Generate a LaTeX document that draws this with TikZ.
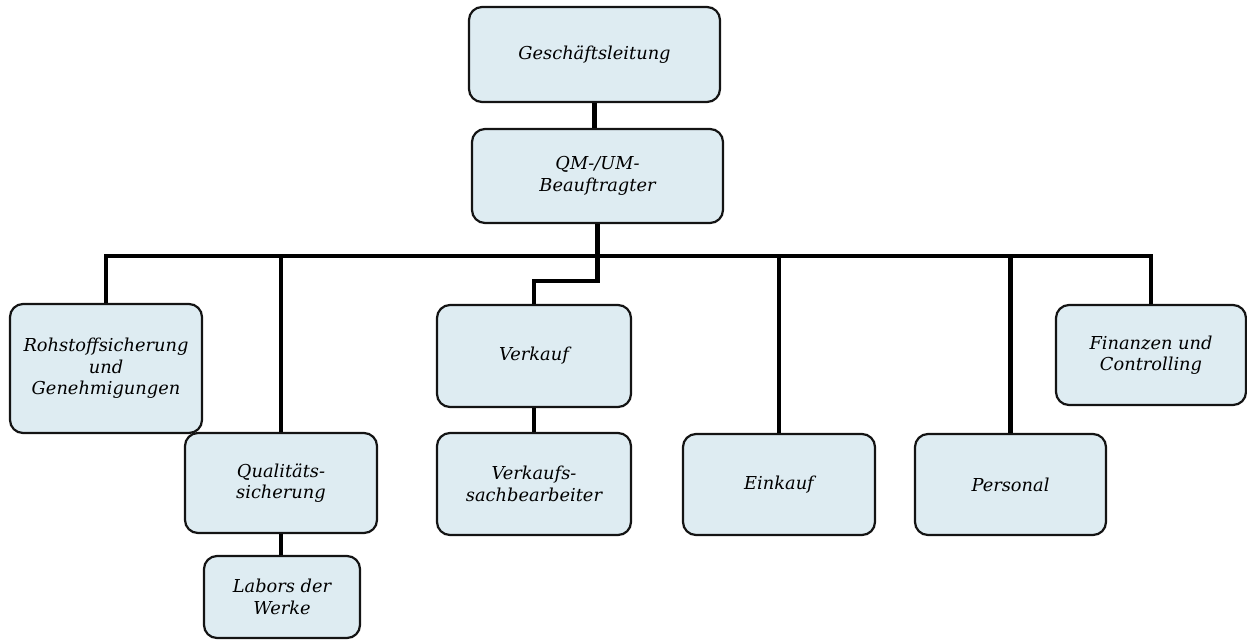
\documentclass[tikz,border=0pt]{standalone}
\usepackage{fontspec}
\setmainfont{DejaVu Serif}
\definecolor{boxfill}{RGB}{222,236,242}
\definecolor{edge}{RGB}{20,20,20}
\begin{document}
\begin{tikzpicture}[x=1pt,y=-1pt,
  orgbox/.style={draw=edge, line width=2.2pt, fill=boxfill, rounded corners=13pt,
    align=center, inner sep=2pt,
    font=\fontsize{17.8}{21.5}\selectfont\itshape},
  conn/.style={draw=black, line width=4.4pt}]
\useasboundingbox (0,0) rectangle (1247,641);

\node[orgbox, minimum width=251pt, minimum height=95pt] (gl) at (594.5,54.5) {Geschäftsleitung};
\node[orgbox, minimum width=251pt, minimum height=94pt] (qm) at (597.5,176) {QM-/UM-\\Beauftragter};
\node[orgbox, minimum width=192pt, minimum height=129pt] (roh) at (106,368.5) {Rohstoffsicherung\\und\\Genehmigungen};
\node[orgbox, minimum width=192pt, minimum height=100pt] (qs) at (281,483) {Qualitäts-\\sicherung};
\node[orgbox, minimum width=156pt, minimum height=82pt] (lab) at (282,597) {Labors der\\Werke};
\node[orgbox, minimum width=194pt, minimum height=102pt] (vk) at (534,356) {Verkauf};
\node[orgbox, minimum width=194pt, minimum height=102pt] (vsb) at (534,484) {Verkaufs-\\sachbearbeiter};
\node[orgbox, minimum width=192pt, minimum height=101pt] (ek) at (779,484.5) {Einkauf};
\node[orgbox, minimum width=191pt, minimum height=101pt] (pers) at (1010.5,484.5) {Personal};
\node[orgbox, minimum width=190pt, minimum height=100pt] (fin) at (1151,355) {Finanzen und\\Controlling};

\coordinate (bus) at (0,256);
\coordinate (jog) at (0,281);

\draw[conn] (gl.south) -- (gl.south |- qm.north);
\draw[conn] (roh.north) -- (roh.north |- bus) -- (fin.north |- bus) -- (fin.north);
\draw[conn] (qm.south) -- (qm.south |- jog) -- (vk.north |- jog) -- (vk.north);
\draw[conn] (qs.north |- bus) -- (qs.north);
\draw[conn] (ek.north |- bus) -- (ek.north);
\draw[conn] (pers.north |- bus) -- (pers.north);
\draw[conn] (qs.south) -- (qs.south |- lab.north);
\draw[conn] (vk.south) -- (vsb.north);
\end{tikzpicture}
\end{document}
